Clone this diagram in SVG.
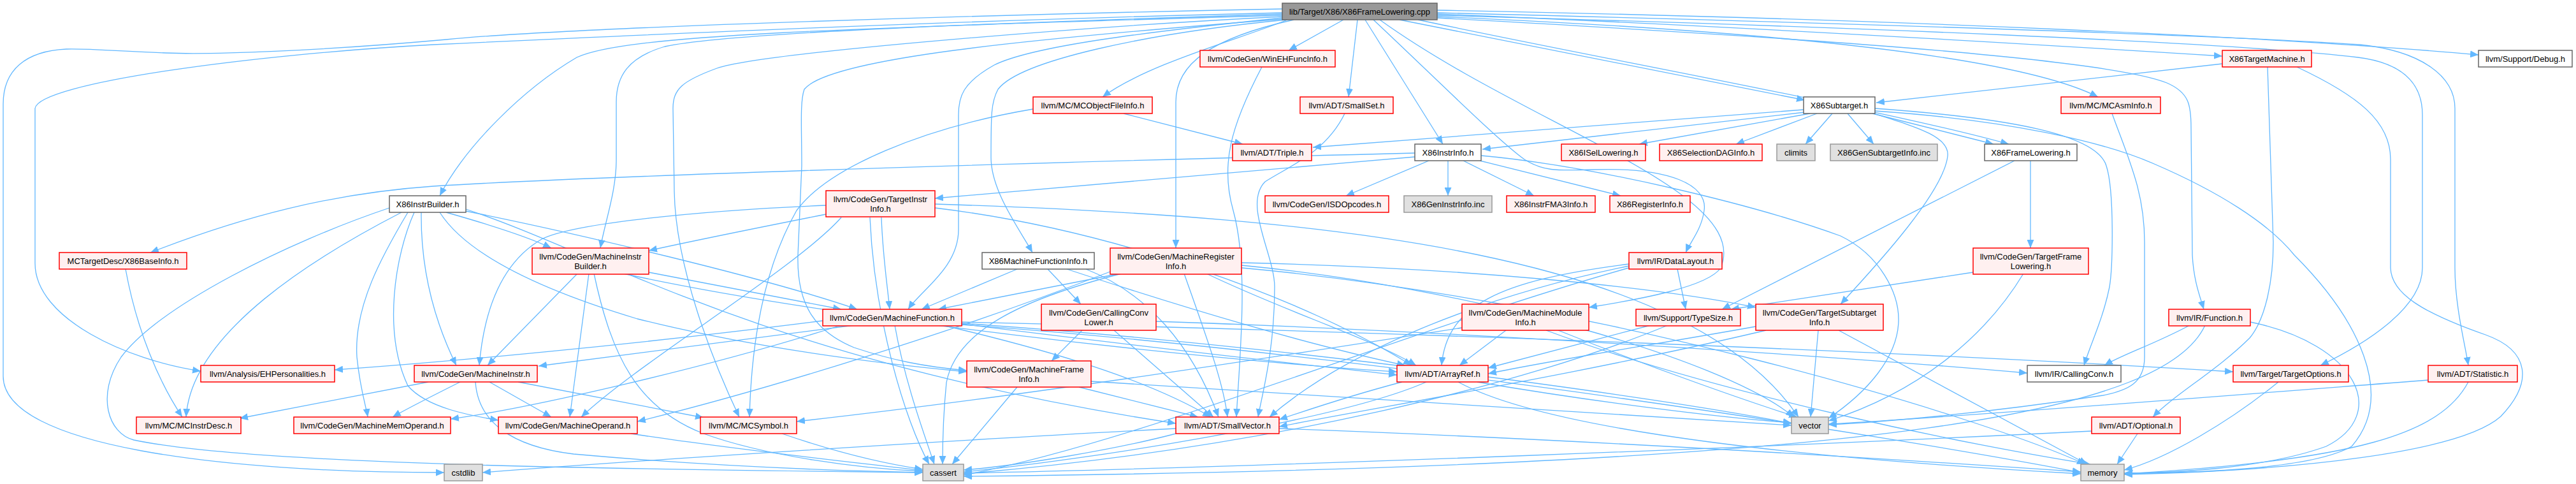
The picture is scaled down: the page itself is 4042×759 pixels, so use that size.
<svg xmlns="http://www.w3.org/2000/svg" width="4042" height="759" viewBox="0 0 4042 759">
<defs>
<style>
.n rect{stroke-width:1.5}
.r rect{fill:#fff0f0;stroke:#ff0000}
.w rect{fill:#ffffff;stroke:#666666}
.g rect{fill:#e0e0e0;stroke:#999999}
.root rect{fill:#999999;stroke:#666666}
text{font-family:"Liberation Sans",Arial,Helvetica,sans-serif;font-size:13px;fill:#000000;text-anchor:middle}
#edges path{fill:none;stroke:#63b8ff;stroke-width:1.3;marker-end:url(#arr)}
</style>
<marker id="arr" markerUnits="userSpaceOnUse" markerWidth="14" markerHeight="11" refX="13" refY="5.5" orient="auto"><path d="M0,0 L13,5.5 L0,11 z" fill="#63b8ff"/></marker>
</defs>
<rect width="4042" height="759" fill="#ffffff"/>
<g id="edges">
<path d="M2108,31 L2022,79"/>
<path d="M2130,31 L2116,152"/>
<path d="M2142,31 L2264,226"/>
<path d="M2020,31 C1950,60 1800,100 1730,152"/>
<path d="M2196,31 L2832,157"/>
<path d="M2255,22 C2700,40 3200,70 3487,88"/>
<path d="M2255,16 C3000,30 3600,60 3889,86"/>
<path d="M2255,26 C2700,45 3150,80 3292,152"/>
<path d="M2225,31 C2500,90 2950,170 3152,226"/>
<path d="M2012,24 C1300,45 980,55 905,90 C820,140 730,230 690,307"/>
<path d="M2012,14 C1600,22 900,42 700,62 C500,80 330,86 260,83 C180,80 140,76 104,77 C40,80 5,110 5,163 L5,590 C5,700 350,741 697,741"/>
<path d="M2012,20 C1500,32 1000,55 680,70 C400,85 60,130 55,170 L55,413 C55,500 200,565 315,582"/>
<path d="M2012,22 C1600,35 1150,50 1043,73 C985,90 967,120 967,160 L967,250 C967,300 950,345 942,389"/>
<path d="M2012,26 C1700,42 1200,82 1125,107 C1070,127 1056,140 1056,170 L1058,300 C1060,420 1120,570 1160,654"/>
<path d="M2012,28 C1800,50 1620,72 1560,102 C1510,130 1504,152 1504,180 L1504,360 C1504,420 1445,455 1425,485"/>
<path d="M2018,31 C1800,52 1600,95 1566,140 C1555,160 1555,180 1555,247 C1555,300 1600,360 1620,396"/>
<path d="M2030,31 C1900,60 1845,100 1845,160 L1845,389"/>
<path d="M2155,31 C2250,120 2350,220 2392,250 C2420,268 2440,268 2500,266 C2620,262 2680,290 2674,330 C2670,360 2652,380 2645,396"/>
<path d="M2255,28 C2800,58 3300,90 3400,130 C3435,145 3438,165 3438,200 L3440,400 C3442,440 3452,465 3458,485"/>
<path d="M2255,24 C2900,42 3500,66 3700,90 C3780,100 3801,140 3801,180 L3801,420 C3801,480 3720,535 3641,573"/>
<path d="M2255,20 C2900,36 3500,56 3703,70 C3800,80 3852,120 3852,170 L3852,420 C3852,480 3868,540 3873,573"/>
<path d="M2012,30 C1600,62 1300,92 1262,140 C1255,160 1258,200 1258,260 L1252,400 C1250,480 1280,520 1340,545 C1400,565 1450,575 1517,581"/>
<path d="M2165,31 C2400,200 2750,300 2700,420 C2680,450 2570,470 2493,482"/>
<path d="M2830,172 L2060,231"/>
<path d="M2832,176 L2326,234"/>
<path d="M2840,178 L2572,226"/>
<path d="M2851,178 L2724,226"/>
<path d="M2875,178 L2833,226"/>
<path d="M2899,178 L2940,226"/>
<path d="M2938,178 L3128,226"/>
<path d="M2940,178 C3010,200 3060,215 3056,245 C3050,300 2950,410 2888,477"/>
<path d="M2942,170 C3150,185 3290,210 3305,260 C3318,300 3315,420 3310,450 C3300,500 3280,540 3270,573"/>
<path d="M2942,174 C3150,188 3300,222 3380,257 C3480,300 3560,350 3600,400 C3700,500 3760,620 3690,700 C3620,740 3400,742 3333,742"/>
<path d="M3487,100 L2944,161"/>
<path d="M3558,105 L3567,380 C3567,440 3555,500 3530,530 C3480,580 3410,620 3378,654"/>
<path d="M3604,105 C3700,150 3751,190 3751,250 L3751,420 C3752,460 3800,490 3900,525 C3970,550 3975,600 3924,653 C3860,710 3600,738 3333,744"/>
<path d="M3314,178 C3340,250 3365,300 3365,380 L3365,560 C3365,600 3340,612 3300,620 C3100,650 2950,662 2869,666"/>
<path d="M2242,252 L2112,307"/>
<path d="M2272,252 L2272,307"/>
<path d="M2296,252 L2407,307"/>
<path d="M2322,252 L2543,307"/>
<path d="M2220,246 L1467,311"/>
<path d="M2220,240 C1500,258 900,278 680,292 C520,303 380,340 236,396"/>
<path d="M2324,244 C2500,260 2750,320 2888,370 C2950,400 2980,460 2979,503 C2978,560 2930,615 2869,656"/>
<path d="M1296,336 C1200,355 1100,375 1018,393"/>
<path d="M1383,341 C1385,400 1392,445 1396,485"/>
<path d="M1296,322 C1100,330 900,350 850,375 C790,410 760,480 752,573"/>
<path d="M1320,341 C1250,420 1000,570 912,654"/>
<path d="M1365,341 C1372,500 1420,660 1458,728"/>
<path d="M1467,326 C1750,360 2050,470 2215,573"/>
<path d="M1467,320 C2100,340 2650,400 2822,654"/>
<path d="M700,333 C760,350 830,372 865,389"/>
<path d="M731,331 C900,365 1200,435 1345,485"/>
<path d="M661,333 C660,420 680,500 716,573"/>
<path d="M640,333 C600,400 555,480 560,560 C565,610 575,640 577,654"/>
<path d="M650,333 C620,400 600,520 640,605 C670,640 740,652 782,659"/>
<path d="M630,333 C500,400 300,520 292,654"/>
<path d="M611,326 C450,380 250,480 190,560 C150,620 170,680 210,690 C400,730 1000,736 1448,741"/>
<path d="M690,333 C720,380 800,440 1000,500 C1200,550 1400,572 1517,583"/>
<path d="M731,328 C950,400 1200,565 1845,664"/>
<path d="M906,429 L765,573"/>
<path d="M924,429 L894,654"/>
<path d="M932,429 C960,560 1000,640 1104,680 C1200,715 1350,735 1448,739"/>
<path d="M1018,427 L1320,485"/>
<path d="M978,429 C1300,500 1900,565 2192,583"/>
<path d="M1291,503 C1000,540 700,568 525,580"/>
<path d="M1340,510 L845,574"/>
<path d="M1320,510 C1100,580 820,642 707,657"/>
<path d="M1404,510 C1420,600 1450,680 1466,728"/>
<path d="M1479,510 C1650,550 1800,595 1900,654"/>
<path d="M1509,508 C1800,545 2050,572 2192,588"/>
<path d="M1509,505 C2200,520 3000,552 3504,583"/>
<path d="M1509,507 C2000,540 2600,622 2811,664"/>
<path d="M1509,509 C2200,560 3000,690 3265,741"/>
<path d="M1752,430 L1472,485"/>
<path d="M1760,429 C1600,470 1500,520 1485,600 C1480,650 1479,700 1479,728"/>
<path d="M1858,429 C1890,520 1920,600 1926,654"/>
<path d="M1893,429 C2020,490 2150,530 2222,573"/>
<path d="M1742,426 C1500,520 1200,612 1000,661"/>
<path d="M1948,412 C2300,420 2600,450 2755,482"/>
<path d="M1948,416 C2300,450 2700,560 2815,654"/>
<path d="M1948,420 C2500,470 3100,650 3272,728"/>
<path d="M1596,422 L1446,485"/>
<path d="M1644,422 L1696,477"/>
<path d="M1674,422 C1850,480 2050,540 2205,573"/>
<path d="M1704,422 C1800,460 1870,540 1912,654"/>
<path d="M1698,518 L1650,566"/>
<path d="M1748,518 L1904,654"/>
<path d="M1814,504 C2300,520 2900,560 3181,585"/>
<path d="M1596,607 L1494,728"/>
<path d="M1693,607 L1880,654"/>
<path d="M1712,598 C2200,630 2600,652 2811,667"/>
<path d="M1845,680 C1750,705 1600,730 1512,737"/>
<path d="M1845,672 C1500,690 1000,722 757,741"/>
<path d="M2007,672 C2500,690 3000,722 3265,740"/>
<path d="M2200,599 C2120,620 2060,640 2007,658"/>
<path d="M2238,599 C2100,660 1700,722 1512,740"/>
<path d="M2318,599 C2500,630 2700,655 2811,663"/>
<path d="M2288,599 C2400,660 2700,712 3265,743"/>
<path d="M2590,510 L2335,577"/>
<path d="M2617,510 C2400,600 2000,702 1512,743"/>
<path d="M2632,422 L2645,485"/>
<path d="M2556,414 C2350,440 2270,480 2262,573"/>
<path d="M2556,417 C2300,470 2100,560 1992,654"/>
<path d="M2556,420 C2200,520 1800,690 1512,745"/>
<path d="M2363,518 L2290,573"/>
<path d="M2294,514 C2000,560 1600,622 1250,661"/>
<path d="M2426,518 C2700,620 3100,700 3280,728"/>
<path d="M2445,518 C2600,580 2750,632 2820,654"/>
<path d="M3096,427 L2716,485"/>
<path d="M3175,429 C3120,520 3020,612 2869,660"/>
<path d="M3186,252 L3186,389"/>
<path d="M3161,252 L2702,485"/>
<path d="M2755,512 C2600,540 2450,562 2335,586"/>
<path d="M2771,518 C2500,582 2200,632 2007,669"/>
<path d="M2853,518 L2841,654"/>
<path d="M2885,518 L3275,728"/>
<path d="M3436,510 C3380,540 3330,556 3302,573"/>
<path d="M3460,510 C3400,640 3000,732 1512,747"/>
<path d="M3531,505 C3700,540 3750,650 3650,700 C3550,736 3400,742 3333,742"/>
<path d="M3575,599 C3500,660 3400,720 3333,737"/>
<path d="M3873,599 C3830,680 3700,722 3333,743"/>
<path d="M3810,596 C3500,620 3100,652 2869,665"/>
<path d="M3354,680 L3322,728"/>
<path d="M3282,676 C2800,700 2000,732 1512,742"/>
<path d="M1227,680 C1300,705 1380,726 1448,736"/>
<path d="M990,680 C1150,705 1350,726 1448,738"/>
<path d="M672,599 L376,656"/>
<path d="M722,599 C680,620 640,640 616,654"/>
<path d="M768,599 L865,654"/>
<path d="M813,599 L1104,655"/>
<path d="M746,599 C750,660 800,700 900,712 C1100,730 1300,738 1448,741"/>
<path d="M197,422 C215,520 250,600 286,654"/>
<path d="M1763,178 L1950,226"/>
<path d="M1621,171 C1450,200 1300,262 1250,330 C1210,400 1180,500 1176,654"/>
<path d="M1980,105 C1930,200 1915,260 1935,330 C1960,420 1945,560 1940,654"/>
<path d="M2110,178 C2080,240 2020,262 1985,285 C1950,320 2000,400 2000,450 C2000,550 1980,620 1974,654"/>
</g>
<g id="n0" class="n root"><rect x="2012" y="5" width="243" height="26"/><text x="2133.5" y="22.5">lib/Target/X86/X86FrameLowering.cpp</text></g>
<g id="n1" class="n r"><rect x="1883" y="79" width="212" height="26"/><text x="1989" y="96.5">llvm/CodeGen/WinEHFuncInfo.h</text></g>
<g id="n2" class="n r"><rect x="2040" y="152" width="146" height="26"/><text x="2113" y="169.5">llvm/ADT/SmallSet.h</text></g>
<g id="n3" class="n r"><rect x="1621" y="152" width="187" height="26"/><text x="1714.5" y="169.5">llvm/MC/MCObjectFileInfo.h</text></g>
<g id="n4" class="n r"><rect x="1934" y="226" width="124" height="26"/><text x="1996" y="243.5">llvm/ADT/Triple.h</text></g>
<g id="n5" class="n w"><rect x="2220" y="226" width="104" height="26"/><text x="2272" y="243.5">X86InstrInfo.h</text></g>
<g id="n6" class="n r"><rect x="2450" y="226" width="132" height="26"/><text x="2516" y="243.5">X86ISelLowering.h</text></g>
<g id="n7" class="n r"><rect x="2604" y="226" width="161" height="26"/><text x="2684.5" y="243.5">X86SelectionDAGInfo.h</text></g>
<g id="n8" class="n g"><rect x="2788" y="226" width="60" height="26"/><text x="2818" y="243.5">climits</text></g>
<g id="n9" class="n g"><rect x="2872" y="226" width="168" height="26"/><text x="2956" y="243.5">X86GenSubtargetInfo.inc</text></g>
<g id="n10" class="n w"><rect x="3114" y="226" width="145" height="26"/><text x="3186.5" y="243.5">X86FrameLowering.h</text></g>
<g id="n11" class="n w"><rect x="2830" y="152" width="112" height="26"/><text x="2886" y="169.5">X86Subtarget.h</text></g>
<g id="n12" class="n r"><rect x="3234" y="152" width="156" height="26"/><text x="3312" y="169.5">llvm/MC/MCAsmInfo.h</text></g>
<g id="n13" class="n r"><rect x="3487" y="79" width="140" height="26"/><text x="3557" y="96.5">X86TargetMachine.h</text></g>
<g id="n14" class="n w"><rect x="3889" y="79" width="147" height="26"/><text x="3962.5" y="96.5">llvm/Support/Debug.h</text></g>
<g id="n15" class="n r"><rect x="1985" y="307" width="194" height="26"/><text x="2082" y="324.5">llvm/CodeGen/ISDOpcodes.h</text></g>
<g id="n16" class="n g"><rect x="2203" y="307" width="138" height="26"/><text x="2272" y="324.5">X86GenInstrInfo.inc</text></g>
<g id="n17" class="n r"><rect x="2364" y="307" width="139" height="26"/><text x="2433.5" y="324.5">X86InstrFMA3Info.h</text></g>
<g id="n18" class="n r"><rect x="2526" y="307" width="126" height="26"/><text x="2589" y="324.5">X86RegisterInfo.h</text></g>
<g id="n19" class="n r"><rect x="1296" y="299" width="171" height="41"/><text x="1381.5" y="316.5">llvm/CodeGen/TargetInstr</text><text x="1381.5" y="331.5">Info.h</text></g>
<g id="n20" class="n w"><rect x="611" y="307" width="120" height="26"/><text x="671" y="324.5">X86InstrBuilder.h</text></g>
<g id="n21" class="n r"><rect x="93" y="396" width="200" height="26"/><text x="193" y="413.5">MCTargetDesc/X86BaseInfo.h</text></g>
<g id="n22" class="n r"><rect x="315" y="573" width="210" height="26"/><text x="420" y="590.5">llvm/Analysis/EHPersonalities.h</text></g>
<g id="n23" class="n r"><rect x="214" y="654" width="164" height="26"/><text x="296" y="671.5">llvm/MC/MCInstrDesc.h</text></g>
<g id="n24" class="n r"><rect x="461" y="654" width="246" height="26"/><text x="584" y="671.5">llvm/CodeGen/MachineMemOperand.h</text></g>
<g id="n25" class="n r"><rect x="650" y="573" width="193" height="26"/><text x="746.5" y="590.5">llvm/CodeGen/MachineInstr.h</text></g>
<g id="n26" class="n r"><rect x="782" y="654" width="218" height="26"/><text x="891" y="671.5">llvm/CodeGen/MachineOperand.h</text></g>
<g id="n27" class="n r"><rect x="1099" y="654" width="151" height="26"/><text x="1174.5" y="671.5">llvm/MC/MCSymbol.h</text></g>
<g id="n28" class="n g"><rect x="697" y="728" width="60" height="26"/><text x="727" y="745.5">cstdlib</text></g>
<g id="n29" class="n r"><rect x="835" y="389" width="183" height="41"/><text x="926.5" y="406.5">llvm/CodeGen/MachineInstr</text><text x="926.5" y="421.5">Builder.h</text></g>
<g id="n30" class="n r"><rect x="1291" y="485" width="218" height="26"/><text x="1400" y="502.5">llvm/CodeGen/MachineFunction.h</text></g>
<g id="n31" class="n w"><rect x="1541" y="396" width="176" height="26"/><text x="1629" y="413.5">X86MachineFunctionInfo.h</text></g>
<g id="n32" class="n r"><rect x="1742" y="389" width="206" height="41"/><text x="1845" y="406.5">llvm/CodeGen/MachineRegister</text><text x="1845" y="421.5">Info.h</text></g>
<g id="n33" class="n r"><rect x="1634" y="477" width="180" height="41"/><text x="1724" y="494.5">llvm/CodeGen/CallingConv</text><text x="1724" y="509.5">Lower.h</text></g>
<g id="n34" class="n r"><rect x="1517" y="566" width="195" height="41"/><text x="1614.5" y="583.5">llvm/CodeGen/MachineFrame</text><text x="1614.5" y="598.5">Info.h</text></g>
<g id="n35" class="n r"><rect x="1845" y="654" width="162" height="26"/><text x="1926" y="671.5">llvm/ADT/SmallVector.h</text></g>
<g id="n36" class="n g"><rect x="1448" y="728" width="64" height="26"/><text x="1480" y="745.5">cassert</text></g>
<g id="n37" class="n r"><rect x="2556" y="396" width="146" height="26"/><text x="2629" y="413.5">llvm/IR/DataLayout.h</text></g>
<g id="n38" class="n r"><rect x="2294" y="477" width="199" height="41"/><text x="2393.5" y="494.5">llvm/CodeGen/MachineModule</text><text x="2393.5" y="509.5">Info.h</text></g>
<g id="n39" class="n r"><rect x="2567" y="485" width="164" height="26"/><text x="2649" y="502.5">llvm/Support/TypeSize.h</text></g>
<g id="n40" class="n r"><rect x="2192" y="573" width="143" height="26"/><text x="2263.5" y="590.5">llvm/ADT/ArrayRef.h</text></g>
<g id="n41" class="n r"><rect x="3096" y="389" width="181" height="41"/><text x="3186.5" y="406.5">llvm/CodeGen/TargetFrame</text><text x="3186.5" y="421.5">Lowering.h</text></g>
<g id="n42" class="n r"><rect x="2755" y="477" width="200" height="41"/><text x="2855" y="494.5">llvm/CodeGen/TargetSubtarget</text><text x="2855" y="509.5">Info.h</text></g>
<g id="n43" class="n w"><rect x="3181" y="573" width="147" height="26"/><text x="3254.5" y="590.5">llvm/IR/CallingConv.h</text></g>
<g id="n44" class="n g"><rect x="2811" y="654" width="58" height="26"/><text x="2840" y="671.5">vector</text></g>
<g id="n45" class="n g"><rect x="3265" y="728" width="68" height="26"/><text x="3299" y="745.5">memory</text></g>
<g id="n46" class="n r"><rect x="3282" y="654" width="139" height="26"/><text x="3351.5" y="671.5">llvm/ADT/Optional.h</text></g>
<g id="n47" class="n r"><rect x="3403" y="485" width="128" height="26"/><text x="3467" y="502.5">llvm/IR/Function.h</text></g>
<g id="n48" class="n r"><rect x="3504" y="573" width="181" height="26"/><text x="3594.5" y="590.5">llvm/Target/TargetOptions.h</text></g>
<g id="n49" class="n r"><rect x="3810" y="573" width="140" height="26"/><text x="3880" y="590.5">llvm/ADT/Statistic.h</text></g>
</svg>
